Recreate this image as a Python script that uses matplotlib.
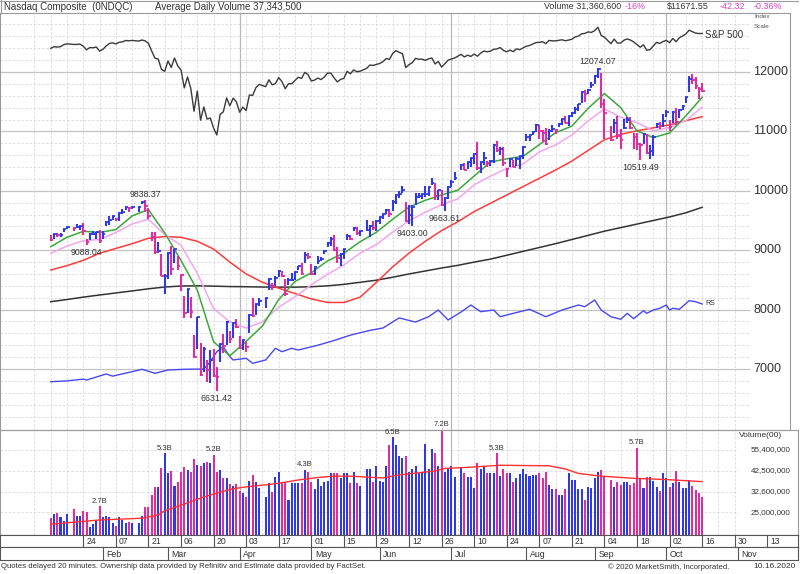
import numpy as np
import pandas as pd
import matplotlib
matplotlib.use("Agg")
import matplotlib.pyplot as plt
from matplotlib.lines import Line2D
from matplotlib.ticker import NullLocator
from matplotlib.transforms import blended_transform_factory

plt.rcParams['font.family'] = ['Liberation Sans', 'DejaVu Sans']

# ------------------------------------------------------------------ data
holidays = ['2020-01-20', '2020-02-17', '2020-04-10', '2020-05-25', '2020-07-03', '2020-09-07']
trade_dates = pd.bdate_range('2020-01-10', '2020-10-16')
trade_dates = trade_dates[~trade_dates.isin(pd.to_datetime(holidays))]

prev_close = 9203  # close before first bar (sets colour of first bar)

closes = [
    9179, 9274, 9251, 9259, 9357, 9389, 9370, 9383, 9402, 9315, 9139, 9269, 9275, 9299, 9151,
    9273, 9467, 9509, 9572, 9520, 9628, 9639, 9726, 9712, 9731, 9733, 9817, 9751, 9577, 9221, 8966, 8981, 8566, 8567,
    8952, 8684, 9019, 8738, 8575, 7950, 8344, 7952, 7201, 7875, 6905, 7335, 6990, 7151, 6880, 6861, 7418, 7385, 7798, 7502, 7774, 7700,
    7361, 7487, 7373, 7913, 7887, 8091, 8153, 8192, 8516, 8393, 8533, 8650, 8561, 8263, 8495, 8495, 8634, 8730, 8607, 8915, 8890,
    8605, 8710, 8810, 8854, 8980, 9121, 9192, 9002, 8863, 8943, 9015, 9235, 9185, 9375, 9284, 9325, 9340, 9412, 9369, 9490,
    9552, 9609, 9683, 9616, 9814, 9924, 9953, 10020, 9493, 9589, 9726, 9895, 9910, 9943, 9946, 10056, 10131, 9909, 10017, 9757, 9874, 10059,
    10155, 10208, 10433, 10344, 10492, 10548, 10617, 10391, 10488, 10550, 10473, 10503, 10767, 10680, 10706, 10462, 10363, 10536, 10402, 10542, 10587, 10745,
    10903, 10941, 10998, 11108, 11011, 10968, 10782, 11012, 11042, 11019, 11129, 11210, 11146, 11265, 11312, 11379, 11466, 11665, 11625, 11696, 11775,
    11939, 12056, 11458, 11313, 10848, 11142, 10920, 10854, 11056, 11191, 11050, 10910, 10793, 10778, 10964, 10633, 10672, 10914, 11118, 11085, 11168,
    11326, 11076, 11332, 11154, 11364, 11420, 11580, 11876, 11864, 11768, 11714, 11672,
]
highs = [
    9253, 9274, 9297, 9290, 9357, 9393, 9391, 9439, 9412, 9451, 9190, 9285, 9329, 9300, 9333,
    9317, 9485, 9570, 9574, 9537, 9629, 9702, 9726, 9732, 9736, 9747, 9817, 9838.37, 9713, 9311, 9309, 9132, 8936, 8594,
    8953, 9071, 9019, 8907, 8584, 8232, 8350, 8218, 7580, 7875, 7432, 7366, 7158, 7318, 7336, 7034, 7418, 7585, 7811, 7636, 7779, 7844,
    7555, 7493, 7459, 7918, 8187, 8095, 8199, 8198, 8527, 8441, 8568, 8663, 8642, 8510, 8532, 8624, 8639, 8739, 8779, 8962, 8954,
    8776, 8715, 8906, 8890, 8998, 9132, 9224, 9249, 9054, 8952, 9023, 9281, 9261, 9389, 9393, 9328, 9503, 9420, 9499, 9505,
    9565, 9612, 9700, 9700, 9845, 9927, 10002, 10087, 9818, 9755, 9753, 9966, 9957, 9944, 10080, 10070, 10221, 10128, 10018, 10015, 9876, 10082,
    10184, 10310, 10446, 10462, 10493, 10558, 10617, 10824, 10489, 10659, 10504, 10512, 10792, 10839, 10734, 10731, 10391, 10546, 10516, 10575, 10594, 10746,
    10948, 10946, 11002, 11121, 11102, 11021, 11059, 11034, 11101, 11048, 11147, 11211, 11253, 11267, 11328, 11419, 11466, 11668, 11705, 11708, 11829,
    11945, 12074.07, 11982, 11547, 11091, 11204, 11262, 11033, 11208, 11245, 11238, 10971, 10976, 10799, 10968, 10954, 10767, 10932, 11145, 11154, 11286,
    11354, 11194, 11340, 11400, 11369, 11440, 11582, 11925, 11967, 11924, 11749, 11822,
]
lows = [
    9163, 9188, 9225, 9220, 9306, 9358, 9330, 9379, 9335, 9255, 9088.04, 9165, 9253, 9181, 9119,
    9196, 9401, 9424, 9503, 9485, 9500, 9612, 9674, 9637, 9698, 9648, 9771, 9645, 9531, 9149, 8943, 8952, 8565, 8264,
    8521, 8575, 8789, 8666, 8307, 7861, 7942, 7863, 7194, 7343, 6879, 6953, 6780, 6764, 6858, 6631.42, 7111, 7264, 7400, 7432, 7529, 7687,
    7336, 7317, 7279, 7612, 7876, 7915, 8054, 8035, 8337, 8338, 8398, 8556, 8555, 8226, 8419, 8480, 8498, 8661, 8602, 8783, 8852,
    8588, 8582, 8770, 8810, 8933, 9054, 9064, 9000, 8783, 8729, 8860, 9177, 9180, 9318, 9261, 9240, 9318, 9224, 9344, 9327,
    9447, 9520, 9614, 9566, 9658, 9773, 9880, 9970, 9492, 9433, 9403.00, 9757, 9887, 9863, 9895, 9909, 10094, 9849, 9848, 9744, 9663.61, 9856,
    10056, 10187, 10355, 10343, 10372, 10399, 10443, 10349, 10293, 10439, 10395, 10420, 10465, 10650, 10610, 10410, 10233, 10395, 10398, 10410, 10364, 10530,
    10830, 10841, 10936, 10986, 10876, 10829, 10771, 10863, 10988, 10958, 11076, 11116, 11137, 11087, 11244, 11289, 11347, 11479, 11499, 11622, 11730,
    11797, 11895, 11386, 10876, 10840, 10978, 10877, 10709, 11036, 11141, 11047, 10712, 10689, 10519.49, 10796, 10615, 10537, 10583, 11049, 11043, 11071,
    11247, 11011, 11137, 11112, 11233, 11359, 11473, 11668, 11804, 11707, 11550, 11662,
]
# daily volume, billions of shares
volume_b = [
    2.32, 2.44, 2.47, 2.37, 2.24, 2.44, 2.60, 2.38, 2.38, 2.56, 2.50, 2.08, 2.15, 2.27, 2.70,
    2.37, 2.38, 2.37, 2.19, 2.11, 2.37, 2.27, 2.17, 2.20, 2.17, 2.17, 2.38, 2.67, 2.67, 3.12, 3.47, 3.47, 4.38, 5.30,
    4.15, 4.24, 3.51, 3.67, 4.17, 4.44, 4.29, 4.17, 4.92, 4.58, 4.49, 4.67, 4.77, 4.67, 5.20, 4.21, 4.29, 3.86, 3.86, 3.60, 3.50, 3.59,
    3.30, 3.22, 3.06, 3.74, 4.03, 3.70, 3.40, 3.06, 3.63, 3.26, 3.95, 4.21, 3.68, 3.68, 2.93, 3.63, 3.63, 3.63, 3.63, 4.30, 4.17,
    3.68, 3.37, 3.82, 3.51, 3.70, 3.72, 4.11, 4.15, 4.11, 3.86, 4.15, 4.11, 3.65, 4.17, 3.63, 3.50, 4.34, 4.34, 3.70, 4.54,
    3.74, 3.68, 4.54, 5.91, 6.50, 5.91, 5.13, 4.98, 5.13, 4.21, 4.34, 4.49, 4.11, 4.21, 5.98, 4.34, 5.59, 5.31, 4.49, 7.20, 4.21, 4.34,
    4.49, 3.91, 4.38, 4.11, 3.91, 3.91, 3.40, 4.67, 4.34, 4.49, 4.15, 4.15, 4.11, 5.30, 4.00, 4.34, 4.11, 4.11, 3.70, 3.86, 4.07, 4.34,
    4.07, 4.00, 4.03, 4.03, 4.15, 3.86, 4.21, 3.54, 3.37, 3.37, 3.12, 3.12, 3.37, 4.11, 3.78, 3.78, 3.37, 3.37, 2.93, 3.47, 3.40,
    3.86, 4.21, 4.29, 4.00, 3.78, 3.47, 3.70, 3.54, 3.70, 3.70, 3.54, 3.65, 5.70, 3.82, 3.40, 3.95, 3.95, 3.74, 3.47, 3.30, 4.15,
    3.86, 3.47, 3.65, 4.24, 3.67, 3.40, 3.40, 3.78, 3.51, 3.33, 3.22, 3.06,
]
# S&P 500 overlay (index scale)
spx = [
    3265, 3288, 3283, 3289, 3317, 3330, 3321, 3321, 3326, 3295, 3244, 3276, 3273, 3284, 3226,
    3249, 3298, 3335, 3345, 3328, 3352, 3358, 3379, 3374, 3380, 3370, 3386, 3373, 3338, 3226, 3128, 3116, 2979, 2954,
    3090, 3003, 3130, 3024, 2972, 2747, 2882, 2741, 2481, 2711, 2386, 2529, 2398, 2409, 2305, 2237, 2447, 2476, 2630, 2541, 2627, 2585,
    2471, 2527, 2489, 2664, 2659, 2750, 2790, 2762, 2847, 2784, 2800, 2875, 2823, 2737, 2799, 2798, 2837, 2878, 2863, 2940, 2912,
    2831, 2843, 2868, 2849, 2882, 2930, 2930, 2870, 2820, 2852, 2864, 2954, 2922, 2972, 2949, 2955, 2992, 3036, 3030, 3044,
    3056, 3081, 3123, 3112, 3194, 3232, 3208, 3190, 3002, 3041, 3067, 3125, 3114, 3115, 3098, 3118, 3131, 3050, 3084, 3009, 3053, 3100,
    3116, 3130, 3180, 3145, 3169, 3152, 3185, 3155, 3197, 3227, 3216, 3225, 3251, 3257, 3276, 3236, 3216, 3239, 3218, 3258, 3246, 3271,
    3295, 3306, 3327, 3349, 3351, 3360, 3333, 3380, 3373, 3373, 3382, 3389, 3375, 3385, 3397, 3431, 3444, 3479, 3485, 3508, 3500,
    3527, 3580, 3455, 3427, 3332, 3399, 3340, 3341, 3383, 3401, 3385, 3357, 3319, 3281, 3316, 3237, 3247, 3298, 3351, 3336, 3363,
    3381, 3348, 3409, 3361, 3419, 3446, 3477, 3534, 3512, 3489, 3483, 3484,
]
# moving averages, sampled on Fridays
week_dates = pd.date_range('2020-01-10', '2020-10-16', freq='W-FRI')
ma10 = [9059, 9218, 9318, 9299, 9347, 9578, 9683, 9291, 8827, 8329, 7458, 7223, 7466, 7724, 8170, 8473, 8620,
        8822, 8949, 9142, 9303, 9521, 9725, 9840, 9929, 10011, 10249, 10484, 10538, 10579, 10777, 10978, 11089,
        11389, 11637, 11400, 11008, 10896, 10973, 11262, 11574]
ema21 = [8950, 9070, 9160, 9180, 9298, 9445, 9520, 9265, 9082, 8611, 8018, 7793, 7690, 7792, 8044, 8213, 8416,
         8597, 8751, 8951, 9095, 9307, 9493, 9641, 9767, 9864, 10101, 10245, 10378, 10448, 10654, 10772, 10939,
         11177, 11378, 11239, 11148, 11013, 11067, 11182, 11408]
ma50 = [8667, 8740, 8830, 8948, 9030, 9110, 9200, 9230, 9217, 9150, 9020, 8800, 8600, 8460, 8360, 8270, 8180,
        8120, 8120, 8210, 8460, 8720, 8950, 9150, 9330, 9480, 9650, 9790, 9930, 10070, 10210, 10350, 10500,
        10680, 10860, 10950, 11010, 11060, 11110, 11180, 11248]
ma200 = [8133, 8170, 8210, 8246, 8280, 8315, 8350, 8380, 8397, 8400, 8395, 8388, 8385, 8380, 8378, 8378, 8385,
         8400, 8425, 8460, 8495, 8545, 8600, 8650, 8700, 8745, 8800, 8850, 8915, 8980, 9045, 9110, 9180,
         9250, 9320, 9380, 9440, 9500, 9560, 9630, 9722]
# relative strength line (drawn on price scale)
rs_dates = ['2020-01-10', '2020-01-17', '2020-01-24', '2020-01-27', '2020-01-31', '2020-02-04', '2020-02-06',
            '2020-02-14', '2020-02-19', '2020-02-25', '2020-03-02', '2020-03-09', '2020-03-17', '2020-03-19',
            '2020-03-23', '2020-03-25', '2020-03-27', '2020-03-30', '2020-04-03', '2020-04-07', '2020-04-13',
            '2020-04-16', '2020-04-20', '2020-04-23', '2020-04-27', '2020-05-05', '2020-05-12', '2020-05-19',
            '2020-05-27', '2020-06-02', '2020-06-09', '2020-06-16', '2020-06-22', '2020-06-25', '2020-06-30',
            '2020-07-06', '2020-07-09', '2020-07-14', '2020-07-20', '2020-07-22', '2020-07-28', '2020-08-04',
            '2020-08-11', '2020-08-18', '2020-08-25', '2020-08-27', '2020-09-01', '2020-09-03', '2020-09-08',
            '2020-09-11', '2020-09-15', '2020-09-17', '2020-09-22', '2020-09-23', '2020-09-25', '2020-09-29',
            '2020-10-01', '2020-10-02', '2020-10-05', '2020-10-07', '2020-10-12', '2020-10-14', '2020-10-16']
rs_line = [6786, 6800, 6830, 6815, 6882, 6916, 6880, 6955, 6995, 6928, 6983, 6995, 7000, 7123, 7291, 7375, 7207,
           7152, 7180, 7096, 7152, 7349, 7291, 7349, 7320, 7400, 7480, 7570, 7650, 7690, 7860, 7790, 7880, 7993,
           7825, 7960, 8077, 7965, 7993, 7880, 7937, 8005, 7880, 7993, 8077, 8049, 8162, 7993, 7880, 7837, 7937,
           7847, 7982, 7937, 7993, 8022, 8077, 7993, 8022, 8005, 8150, 8133, 8094]
# 50-day average volume (billions)
vol_ma_dates = ['2020-01-10', '2020-01-31', '2020-02-19', '2020-02-26', '2020-02-28', '2020-03-06', '2020-03-16',
                '2020-03-23', '2020-03-30', '2020-04-06', '2020-04-13', '2020-04-20', '2020-04-27', '2020-05-05',
                '2020-05-12', '2020-05-19', '2020-05-26', '2020-06-02', '2020-06-09', '2020-06-24', '2020-06-29',
                '2020-07-08', '2020-07-22', '2020-08-12', '2020-08-19', '2020-08-25', '2020-09-03', '2020-09-17',
                '2020-10-01', '2020-10-16']
vol_ma = [2.15, 2.27, 2.32, 2.42, 2.55, 2.74, 3.00, 3.20, 3.38, 3.48, 3.55, 3.65, 3.78, 3.90, 3.97, 3.97, 3.92,
          3.88, 4.03, 4.24, 4.38, 4.44, 4.56, 4.53, 4.35, 4.11, 3.97, 3.86, 3.80, 3.70]

price_ticks = [7000, 8000, 9000, 10000, 11000, 12000]
vol_ticks = [2.5, 3.26, 4.25, 5.54]
vol_tick_labels = ['25,000,000', '32,600,000', '42,500,000', '55,400,000']
date_ticks = pd.date_range('2020-01-24', '2020-11-13', freq='2W-FRI')
month_starts = ['2020-02-03', '2020-03-02', '2020-04-01', '2020-05-01', '2020-06-01', '2020-07-01',
                '2020-08-03', '2020-09-01', '2020-10-01', '2020-11-02']
month_labels = ['Feb', 'Mar', 'Apr', 'May', 'Jun', 'Jul', 'Aug', 'Sep', 'Oct', 'Nov']
price_notes = [('2020-01-27', 'low', '9088.04'), ('2020-02-20', 'high', '9838.37'),
               ('2020-03-23', 'low', '6631.42'), ('2020-06-15', 'low', '9403.00'),
               ('2020-06-29', 'low', '9663.61'), ('2020-09-02', 'high', '12074.07'),
               ('2020-09-21', 'low', '10519.49')]
volume_notes = [('2020-01-31', '2.7B'), ('2020-02-28', '5.3B'), ('2020-03-20', '5.2B'), ('2020-04-29', '4.3B'),
                ('2020-06-05', '6.5B'), ('2020-06-26', '7.2B'), ('2020-07-21', '5.3B'), ('2020-09-18', '5.7B')]

# ------------------------------------------------------------------ layout helpers
W, H = 800, 574
PX_DAY = 3.257          # pixels per weekday slot
X0 = 83.3               # pixel x of the 2020-01-24 slot
BLUE = '#2f3ae6'
PINK = '#e02c9e'
TXT = '#333333'
MAGENTA = '#e03ad0'
GRID_DASH = '#d8d8d8'

def rect(x0, y0, x1, y1):
    return [x0 / W, 1 - y1 / H, (x1 - x0) / W, (y1 - y0) / H]

def pxw(px):
    return (px - X0) / PX_DAY

def slot(dates):
    d = pd.to_datetime(list(dates)).values.astype('datetime64[D]')
    return np.busday_count(np.datetime64('2020-01-24'), d).astype(float)

closes = np.array(closes, float)
highs = np.array(highs, float)
lows = np.array(lows, float)
volume_b = np.array(volume_b, float)
xs = slot(trade_dates)
prev = np.concatenate([[prev_close], closes[:-1]])
bar_colors = np.where(closes >= prev, BLUE, PINK)
date_index = {d.strftime('%Y-%m-%d'): i for i, d in enumerate(trade_dates)}

fig = plt.figure(figsize=(W / 100, H / 100), dpi=100)
fig.patch.set_facecolor('white')

# price scale: 12000 at y=72px, 0.0594 px per point
P_TOP = 12000 + (72 - 13) / 0.0594
P_BOT = 12000 - (430 - 72) / 0.0594

fridays = pd.date_range('2020-01-03', '2020-11-06', freq='W-FRI')
quarters = ['2020-04-01', '2020-07-01', '2020-10-01']

# ------------------------------------------------------------------ price panel
ax = fig.add_axes(rect(0, 13, 790, 430))
ax.set_xlim(pxw(0), pxw(790))
ax.set_ylim(P_BOT, P_TOP)
ax.set_xticks([]); ax.set_yticks([])
for s in ax.spines.values():
    s.set_color('#9a9a9a'); s.set_linewidth(0.8)

g0, g1 = pxw(0), pxw(750)
for v in np.arange(6200, 12801, 200):
    if v % 1000 == 0:
        ax.hlines(v, g0, g1, colors='#c2c2c2', lw=0.9, zorder=0)
    else:
        ax.hlines(v, g0, g1, colors=GRID_DASH, lw=0.6, linestyles=(0, (3, 2)), zorder=0)
fx = slot(fridays)
fx = fx[fx <= g1]
ax.vlines(fx, P_BOT, P_TOP, colors=GRID_DASH, lw=0.6, linestyles=(0, (3, 2)), zorder=0)
ax.vlines(slot(quarters), P_BOT, P_TOP, colors='#b8b8b8', lw=0.9, zorder=0)

wx = slot(week_dates)
ax.plot(wx, ma200, color='#333333', lw=1.1, zorder=3)
ax.plot(wx, ma50, color='#ff3b3b', lw=1.1, zorder=3)
ax.plot(wx, ema21, color='#f2a6ee', lw=1.1, zorder=3)
ax.plot(wx, ma10, color='#3aa83a', lw=1.1, zorder=4)
rsx = slot(rs_dates)
ax.plot(rsx, rs_line, color='#4848f2', lw=1.0, zorder=3)
ax.annotate('RS', xy=(rsx[-1], rs_line[-1]), xytext=(2, 0.5), textcoords='offset points',
            fontsize=5, color=TXT, va='center', ha='left')

ax.vlines(xs, lows, highs, colors=bar_colors, lw=1.5, zorder=5)
ax.hlines(closes, xs - 0.2, xs + 0.8, colors=bar_colors, lw=1.3, zorder=5)

for d, kind, label in price_notes:
    i = date_index[d]
    if kind == 'high':
        ax.annotate(label, xy=(xs[i], highs[i]), xytext=(0, 0.8), textcoords='offset points',
                    ha='center', va='bottom', fontsize=6.3, color=TXT, zorder=6)
    else:
        ax.annotate(label, xy=(xs[i], lows[i]), xytext=(0, -2.2), textcoords='offset points',
                    ha='center', va='top', fontsize=6.3, color=TXT, zorder=6)

ytr = blended_transform_factory(ax.transAxes, ax.transData)
for v in price_ticks:
    ax.text(753 / 790, v, str(v), transform=ytr, fontsize=9, color=TXT, ha='left', va='center')

# S&P 500 overlay on its own log index scale
ax2 = ax.twinx()
ax2.set_yscale('log')
S_TOP = 3386 * np.exp((40 - 13) / 229.2)
S_BOT = 3386 * np.exp((40 - 430) / 229.2)
ax2.set_ylim(S_BOT, S_TOP)
ax2.yaxis.set_major_locator(NullLocator()); ax2.yaxis.set_minor_locator(NullLocator())
for s in ax2.spines.values():
    s.set_visible(False)
ax2.plot(xs, spx, color='#3a3a3a', lw=1.0)
ax2.annotate('S&P 500', xy=(xs[-1], spx[-1]), xytext=(2, -1), textcoords='offset points',
             fontsize=7, color=TXT, va='center', ha='left')

# ------------------------------------------------------------------ volume panel
axv = fig.add_axes(rect(0, 430, 798, 535))
axv.set_xlim(pxw(0), pxw(798))
axv.set_yscale('log')
V_TOP = 5.54 * np.exp(20 / 78.4)
V_BOT = 5.54 * np.exp(-85 / 78.4)
axv.set_ylim(V_BOT, V_TOP)
axv.set_xticks([]); axv.set_yticks([])
axv.yaxis.set_minor_locator(NullLocator())
axv.patch.set_alpha(0)
for s in axv.spines.values():
    s.set_color('#9a9a9a'); s.set_linewidth(0.8)
axv.spines['bottom'].set_color('#555555')

vg1 = pxw(738)
for v in vol_ticks:
    axv.hlines(v, pxw(0), vg1, colors=GRID_DASH, lw=0.6, linestyles=(0, (3, 2)), zorder=0)
vfx = slot(fridays)
vfx = vfx[vfx <= vg1]
axv.vlines(vfx, V_BOT, V_TOP, colors=GRID_DASH, lw=0.6, linestyles=(0, (3, 2)), zorder=0)
axv.vlines(slot(quarters), V_BOT, V_TOP, colors='#b8b8b8', lw=0.9, zorder=0)

axv.bar(xs, volume_b - 1.0, bottom=1.0, width=0.62, color=bar_colors, linewidth=0, zorder=2)
axv.plot(slot(vol_ma_dates), vol_ma, color='#ff3030', lw=1.0, zorder=3)

for d, label in volume_notes:
    i = date_index[d]
    axv.annotate(label, xy=(xs[i], volume_b[i]), xytext=(0, 1.2), textcoords='offset points',
                 ha='center', va='bottom', fontsize=5.5, color=TXT, annotation_clip=False, zorder=6)

vtr = blended_transform_factory(axv.transAxes, axv.transData)
for v, lab in zip(vol_ticks, vol_tick_labels):
    axv.text(751 / 798, v, lab, transform=vtr, fontsize=5.8, color=TXT, ha='left', va='center')
fig.text(739 / W, 1 - 435.5 / H, 'Volume(00)', fontsize=6, color=TXT, ha='left', va='center')

# ------------------------------------------------------------------ date rows
axd = fig.add_axes(rect(0, 535, 798, 547))
axd.set_xlim(pxw(0), pxw(798)); axd.set_ylim(0, 1)
axd.set_xticks([]); axd.set_yticks([])
for s in axd.spines.values():
    s.set_color('#555555'); s.set_linewidth(0.8)
for d in date_ticks:
    x = slot([d])[0]
    axd.vlines(x, 0, 1, colors='#555555', lw=0.8)
    axd.text(x + 0.9, 0.45, d.strftime('%d'), fontsize=6.2, color=TXT, ha='left', va='center')

axm = fig.add_axes(rect(0, 547, 798, 560))
axm.set_xlim(pxw(0), pxw(798)); axm.set_ylim(0, 1)
axm.set_xticks([]); axm.set_yticks([])
for s in axm.spines.values():
    s.set_color('#555555'); s.set_linewidth(0.8)
for d, lab in zip(month_starts, month_labels):
    x = slot([d])[0]
    axm.vlines(x, 0, 1, colors='#555555', lw=0.8)
    axm.text(x + 1.1, 0.45, lab, fontsize=6.3, color=TXT, ha='left', va='center')

# ------------------------------------------------------------------ header & footer
fig.add_artist(Line2D([0, 798 / W], [1 - 0.6 / H] * 2, color='#9a9a9a', lw=0.8))
fig.add_artist(Line2D([0.6 / W] * 2, [1 - 13 / H, 1], color='#9a9a9a', lw=0.8))
hy = 1 - 6.8 / H
fig.text(4 / W, hy, 'Nasdaq Composite  (0NDQC)', fontsize=7, color=TXT, va='center')
fig.text(155 / W, hy, 'Average Daily Volume 37,343,500', fontsize=7, color=TXT, va='center')
fig.text(621 / W, hy, 'Volume 31,360,600', fontsize=6.4, color=TXT, va='center', ha='right')
fig.text(625 / W, hy, '-16%', fontsize=6.4, color=MAGENTA, va='center')
fig.text(667 / W, hy, '$11671.55', fontsize=6.4, color=TXT, va='center')
fig.text(720 / W, hy, '-42.32', fontsize=6.4, color=MAGENTA, va='center')
fig.text(754 / W, hy, '-0.36%', fontsize=6.4, color=MAGENTA, va='center')
fig.text(754 / W, 1 - 17 / H, 'Index', fontsize=4.6, color='#555555', va='center')
fig.text(754 / W, 1 - 27 / H, 'Scale', fontsize=4.6, color='#555555', va='center')

fy = 1 - 567 / H
fig.text(1 / W, fy, 'Quotes delayed 20 minutes. Ownership data provided by Refinitiv and Estimate data provided by FactSet.',
         fontsize=5.6, color=TXT, va='center')
fig.text(608 / W, fy, '\u00a9 2020 MarketSmith, Incorporated.', fontsize=5.6, color=TXT, va='center')
fig.text(753 / W, fy, '10.16.2020', fontsize=6, color=TXT, va='center')

fig.savefig('out.png', dpi=100)
